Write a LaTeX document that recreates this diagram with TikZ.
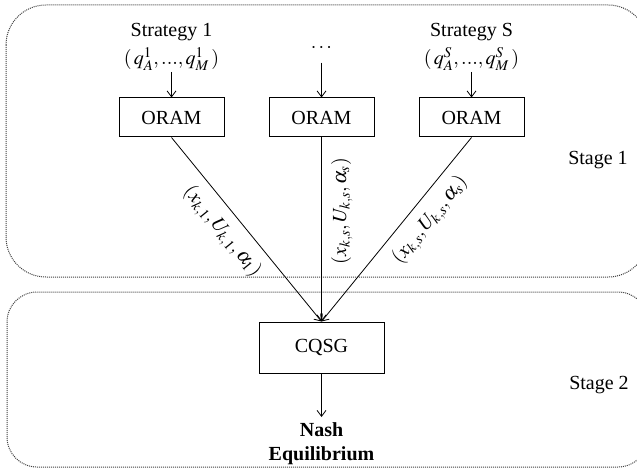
\documentclass[tikz,border=0pt]{standalone}
\usepackage{mathptmx}
\usepackage{fontspec}
\setmainfont{Liberation Serif}
\usetikzlibrary{arrows.meta}
\tikzset{%
oram/.style={draw,line width=1pt,minimum width=105pt,minimum height=39pt,inner sep=0pt},
game/.style={draw,line width=1pt,minimum width=125pt,minimum height=51pt,inner sep=0pt},
arr/.style={line width=0.8pt,-{Straight Barb[length=6pt,width=9pt]}},
arrback/.style={line width=0.8pt,{Straight Barb[length=6pt,width=9pt]}-},
frame/.style={densely dotted,line width=1pt,black!75},
lbl/.style={sloped,below=6pt,pos=#1},
}

\begin{document}
\begin{tikzpicture}[x=1pt,y=-1pt,font=\fontsize{20}{28}\selectfont]
 \useasboundingbox (0,0) rectangle (637,468);
 \draw[frame,rounded corners=40pt] (6,5) rectangle (648,277);
 \draw[frame,rounded corners=30pt] (7,292) rectangle (648,467);
 \node (T1) at (598,160) {Stage 1};
 \node (T2) at (599,385) {Stage 2};
 \node[align=center,anchor=south,inner sep=1pt] (S1) at (171.5,72) {Strategy 1\\$(\,q^1_A,...,q^1_M\,)$};
 \node[text depth=6pt,anchor=base] (D) at (321.5,53) {$\cdots$};
 \node[align=center,anchor=south,inner sep=1pt] (SS) at (471.5,72) {Strategy S\\$(\,q^S_A,...,q^S_M\,)$};
 \node[oram] (O1) at (171.5,117.5) {ORAM};
 \node[oram] (O2) at (321.5,117.5) {ORAM};
 \node[oram] (O3) at (471.5,117.5) {ORAM};
 \node[game] (Q) at (321.5,347.5) {CQSG};
 \node[align=center,anchor=north,inner ysep=5pt,font=\fontsize{20}{24}\selectfont\bfseries] (N) at (321.5,417) {Nash\\Equilibrium};
 \draw[arr] (S1) -- (O1);
 \draw[arr] (D) -- (O2);
 \draw[arr] (SS) -- (O3);
 \draw[arr] (O1.south) -- node[lbl=0.44] {$(x_{k,1},U_{k,1},\alpha_1)$} (Q.north);
 \draw[arrback] (Q.north) -- node[lbl=0.6] {$(x_{k,s},U_{k,s},\alpha_s)$} (O2.south);
 \draw[arrback] (Q.north) -- node[lbl=0.62] {$(x_{k,s},U_{k,s},\alpha_s)$} (O3.south);
 \draw[arr] (Q) -- (N);
\end{tikzpicture}
\end{document}
